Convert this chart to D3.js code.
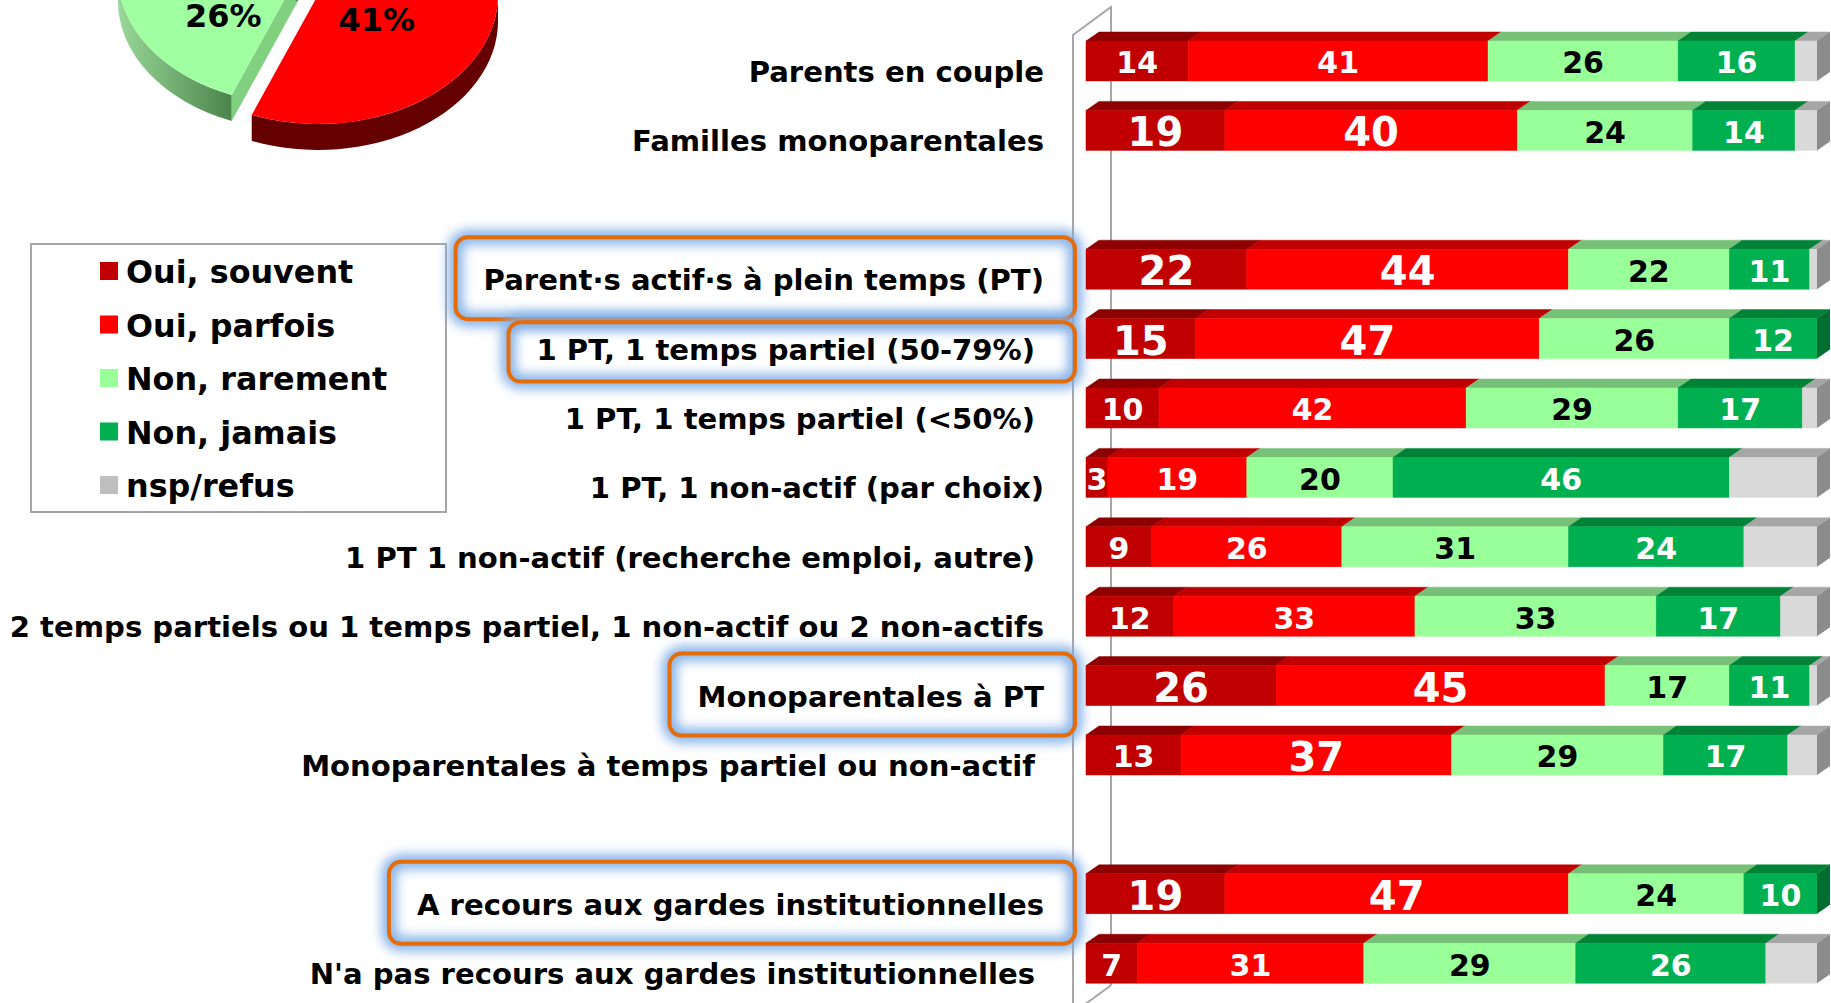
<!DOCTYPE html>
<html>
<head>
<meta charset="utf-8">
<script src="https://cdn.jsdelivr.net/npm/d3@7"></script>
<style>
  html, body { margin: 0; padding: 0; background: #fff; overflow: hidden; }
  svg { display: block; font-family: "DejaVu Sans", Verdana, sans-serif; font-weight: bold; }
</style>
</head>
<body>
<svg id="chart" width="1831" height="1003"></svg>
<script>
// --- data ---
var categories = [
  "Parents en couple",
  "Familles monoparentales",
  "Parent·s actif·s à plein temps (PT)",
  "1 PT, 1 temps partiel (50-79%)",
  "1 PT, 1 temps partiel (<50%)",
  "1 PT, 1 non-actif (par choix)",
  "1 PT 1 non-actif (recherche emploi, autre)",
  "2 temps partiels ou 1 temps partiel, 1 non-actif ou 2 non-actifs",
  "Monoparentales à PT",
  "Monoparentales à temps partiel ou non-actif",
  "A recours aux gardes institutionnelles",
  "N'a pas recours aux gardes institutionnelles"
];
var gapAfter = [1, 9];   // an empty row follows these categories

var seriesNames = ["Oui, souvent", "Oui, parfois", "Non, rarement", "Non, jamais", "nsp/refus"];
var ouiSouvent  = [14, 19, 22, 15, 10,  3,  9, 12, 26, 13, 19,  7];
var ouiParfois  = [41, 40, 44, 47, 42, 19, 26, 33, 45, 37, 47, 31];
var nonRarement = [26, 24, 22, 26, 29, 20, 31, 33, 17, 29, 24, 29];
var nonJamais   = [16, 14, 11, 12, 17, 46, 24, 17, 11, 17, 10, 26];
var nspRefus    = [ 3,  3,  1,  0,  2, 12, 10,  5,  1,  4,  0,  7];

// values printed bigger (series index per row)
var bigLabels = [[], [0, 1], [0, 1], [0, 1], [], [], [], [], [0, 1], [1], [0, 1], []];

var highlighted = [
  "Parent·s actif·s à plein temps (PT)",
  "1 PT, 1 temps partiel (50-79%)",
  "Monoparentales à PT",
  "A recours aux gardes institutionnelles"
];

// overall pie (only the lower part is in frame)
var pieValues = [15, 41, 26, 15, 3];

// --- styles / layout ---
var frontCol = ["#C00000", "#FF0000", "#99FF99", "#00B050", "#D9D9D9"];
var topCol   = ["#8E0000", "#C00000", "#77C077", "#008237", "#A6A6A6"];
var sideCol  = ["#6E0000", "#A00000", "#66AA66", "#006E30", "#8C8C8C"];
var textCol  = ["#fff", "#fff", "#000", "#fff", "#000"];
var labelInset = [0, 0, 0, 9, 9, 0, 9, 0, 0, 9, 0, 9];

var svg = d3.select("#chart");
var defs = svg.append("defs");
defs.append("filter").attr("id", "glow").attr("x", "-20%").attr("y", "-50%")
  .attr("width", "140%").attr("height", "200%")
  .append("feGaussianBlur").attr("stdDeviation", 6);
var gGrad = defs.append("linearGradient").attr("id", "greenSide");
gGrad.append("stop").attr("offset", "0%").attr("stop-color", "#98D898");
gGrad.append("stop").attr("offset", "100%").attr("stop-color", "#4C844C");

var slots = [];
categories.forEach(function (c, i) {
  slots.push(c);
  if (gapAfter.indexOf(i) >= 0) slots.push("__gap" + i);
});

var x = d3.scaleLinear().domain([0, 100]).range([1086, 1817]);
var y = d3.scaleBand().domain(slots).range([41, 983.2]).paddingInner(0.424).paddingOuter(0);
var DX = 13, DY = 9;            // bar depth
var WDX = 38, WDY = 28;         // wall depth

// --- pie ---
var pc = { x: 298, y: -25, rx: 180, ry: 129, depth: 26 };
var pieCol = frontCol.slice();
pieCol[2] = "#A0FFA0";
var pieSide = ["#6E0000", "#650000", "url(#greenSide)", "#006E30", "#8C8C8C"];
var pieExplode = [[0, 0], [20, 20], [0, 0], [0, 0], [0, 0]];
var pieLabelNudge = [[0, 0], [-8, -13], [4, 18], [0, 0], [0, 0]];

var arcs = d3.pie().sort(null)(pieValues);
var gPie = svg.append("g");
function pt(c, t, dy) { return [c.x + pc.rx * Math.cos(t), c.y + pc.ry * Math.sin(t) + (dy || 0)]; }
arcs.forEach(function (a, i) {
  var c = { x: pc.x + pieExplode[i][0], y: pc.y + pieExplode[i][1] };
  var t0 = a.startAngle - Math.PI / 2, t1 = a.endAngle - Math.PI / 2;
  // outer wall, front-facing part
  var s0 = Math.max(t0, 0), s1 = Math.min(t1, Math.PI);
  if (s1 > s0) {
    var p0 = pt(c, s0), p1 = pt(c, s1), q1 = pt(c, s1, pc.depth), q0 = pt(c, s0, pc.depth);
    gPie.append("path")
      .attr("d", "M" + p0 + "A" + pc.rx + "," + pc.ry + " 0 0 1 " + p1 + "L" + q1 +
        "A" + pc.rx + "," + pc.ry + " 0 0 0 " + q0 + "Z")
      .attr("fill", pieSide[i]);
  }
  // cut face at the start edge, when it faces the viewer
  if (Math.cos(t0) < 0 && pieExplode[i][0] === 0) {
    var e = pt(c, t0);
    gPie.append("path")
      .attr("d", "M" + [c.x, c.y] + "L" + e + "L" + [e[0], e[1] + pc.depth] + "L" + [c.x, c.y + pc.depth] + "Z")
      .attr("fill", i === 2 ? "#80D080" : sideCol[i]);
  }
  var a0 = pt(c, t0), a1 = pt(c, t1);
  gPie.append("path")
    .attr("d", "M" + [c.x, c.y] + "L" + a0 + "A" + pc.rx + "," + pc.ry + " 0 " +
      (t1 - t0 > Math.PI ? 1 : 0) + " 1 " + a1 + "Z")
    .attr("fill", pieCol[i]);
  var mid = (t0 + t1) / 2;
  var lp = [c.x + 0.47 * pc.rx * Math.cos(mid) + pieLabelNudge[i][0],
            c.y + 0.47 * pc.ry * Math.sin(mid) + pieLabelNudge[i][1]];
  if (lp[1] > 0) {   // labels of the slices above the frame are not in view
    gPie.append("text").attr("x", lp[0]).attr("y", lp[1] + 11.5)
      .attr("text-anchor", "middle").attr("font-size", 32).attr("fill", "#000")
      .text(a.data + "%");
  }
});

// --- legend ---
var gLeg = svg.append("g");
gLeg.append("rect").attr("x", 31).attr("y", 244).attr("width", 415).attr("height", 268)
  .attr("fill", "#fff").attr("stroke", "#A6A6A6").attr("stroke-width", 2);
var ly = d3.scalePoint().domain(seriesNames).range([271, 485]);
seriesNames.forEach(function (n, s) {
  gLeg.append("rect").attr("x", 100).attr("y", ly(n) - 9).attr("width", 18).attr("height", 18)
    .attr("fill", s === 4 ? "#BFBFBF" : frontCol[s]);
  gLeg.append("text").attr("x", 126).attr("y", ly(n) + 12).attr("font-size", 31.8).attr("fill", "#000").text(n);
});

// --- wall ---
var wf = x(0) - DX, wb = wf + WDX;
var wTop = y.range()[0] - 6, wBot = y.range()[1] + 30;
var gWall = svg.append("g").attr("fill", "none").attr("stroke", "#A6A6A6").attr("stroke-width", 2);
gWall.append("path").attr("d", "M" + wb + "," + (wBot - WDY) + "V" + (wTop - WDY) + "L" + wf + "," + wTop + "V" + (wBot + 10));
gWall.append("path").attr("d", "M" + wb + "," + (wBot - WDY) + "L" + wf + "," + wBot);

// --- highlight boxes layer (filled after labels are measured) ---
var gBox = svg.append("g");

// --- category labels ---
var gLab = svg.append("g");
var labelNodes = {};
categories.forEach(function (c, i) {
  var t = gLab.append("text")
    .attr("x", wf - 29 - labelInset[i])
    .attr("y", y(c) + y.bandwidth() / 2 + 21)
    .attr("text-anchor", "end").attr("font-size", 29.1).attr("fill", "#000").text(c);
  labelNodes[c] = t.node();
});

// --- bars ---
var series = [ouiSouvent, ouiParfois, nonRarement, nonJamais, nspRefus];
var gBars = svg.append("g");
categories.forEach(function (c, i) {
  var y0 = y(c), h = y.bandwidth(), cum = 0;
  var segs = series.map(function (arr, s) {
    var a = cum; cum += arr[i];
    return { s: s, v: arr[i], a: a, b: cum };
  }).filter(function (d) { return d.v > 0; });
  var last = segs[segs.length - 1];
  var g = gBars.append("g");
  g.selectAll("path.top").data(segs).join("path").attr("class", "top")
    .attr("d", function (d) {
      return "M" + x(d.a) + "," + y0 + "L" + (x(d.a) + DX) + "," + (y0 - DY) +
        "L" + (x(d.b) + DX) + "," + (y0 - DY) + "L" + x(d.b) + "," + y0 + "Z";
    })
    .attr("fill", function (d) { return topCol[d.s]; })
    .attr("stroke", function (d) { return topCol[d.s]; }).attr("stroke-width", 0.5);
  g.selectAll("rect").data(segs).join("rect")
    .attr("x", function (d) { return x(d.a); }).attr("y", y0)
    .attr("width", function (d) { return x(d.b) - x(d.a); }).attr("height", h)
    .attr("fill", function (d) { return frontCol[d.s]; })
    .attr("stroke", function (d) { return frontCol[d.s]; }).attr("stroke-width", 0.5);
  var xe = x(last.b);
  g.append("path")
    .attr("d", "M" + xe + "," + y0 + "L" + (xe + DX) + "," + (y0 - DY) + "L" + (xe + DX) + "," + (y0 + h - DY) + "L" + xe + "," + (y0 + h) + "Z")
    .attr("fill", sideCol[last.s]);
  g.selectAll("text").data(segs.filter(function (d) { return d.s < 4; })).join("text")
    .attr("x", function (d) { return (x(d.a) + x(d.b)) / 2; })
    .attr("y", function (d) {
      var fs = bigLabels[i].indexOf(d.s) >= 0 ? 40 : 30;
      return y0 + h / 2 + fs * 0.365 + 1.5;
    })
    .attr("text-anchor", "middle")
    .attr("font-size", function (d) { return bigLabels[i].indexOf(d.s) >= 0 ? 40 : 30; })
    .attr("fill", function (d) { return textCol[d.s]; })
    .text(function (d) { return d.v; });
});

// --- highlight boxes ---
var prevBottom = -Infinity;
highlighted.forEach(function (c) {
  var bb = labelNodes[c].getBBox();
  var yc = y(c) + y.bandwidth() / 2;
  var top = Math.max(yc - 32, prevBottom + 3), bottom = yc + 50;
  if (top > yc - 32) bottom = yc + 43;
  var x0 = bb.x - 28, x1 = wf + 2;
  gBox.append("rect").attr("x", x0).attr("y", top).attr("width", x1 - x0).attr("height", bottom - top)
    .attr("rx", 12).attr("fill", "none").attr("stroke", "#7FADE6").attr("stroke-width", 14)
    .attr("filter", "url(#glow)");
  gBox.append("rect").attr("x", x0).attr("y", top).attr("width", x1 - x0).attr("height", bottom - top)
    .attr("rx", 12).attr("fill", "none").attr("stroke", "#E46C0A").attr("stroke-width", 4);
  prevBottom = bottom;
});
</script>
</body>
</html>
